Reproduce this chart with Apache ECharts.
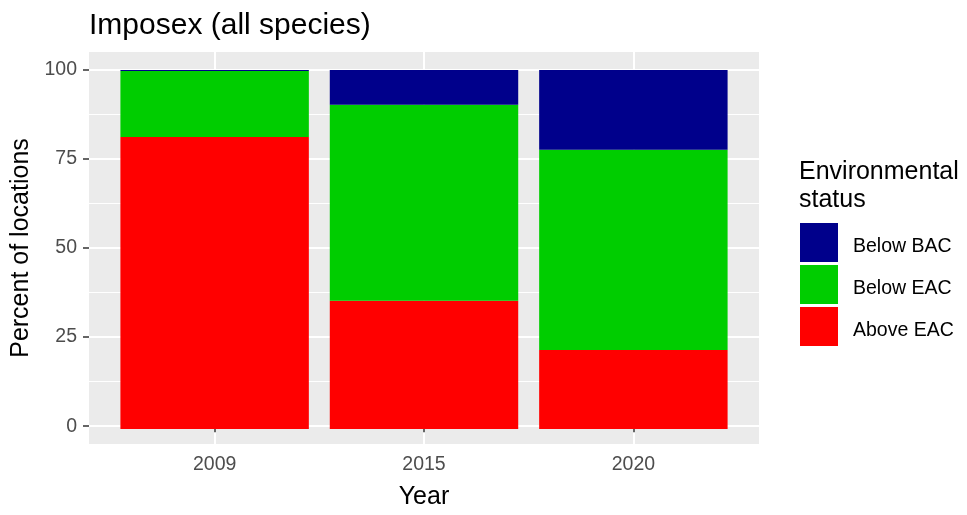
<!DOCTYPE html>
<html>
<head>
<meta charset="utf-8">
<script src="https://cdn.jsdelivr.net/npm/echarts@6/dist/echarts.min.js"></script>
<style>html,body{margin:0;padding:0;background:#fff}#c{width:967px;height:515px}</style>
</head>
<body>
<div id="c"></div>
<script>
const years = ['2009', '2015', '2020'];
const aboveEAC = [81.3, 35.7, 22.0];
const belowEAC = [18.4, 54.6, 55.8];
const belowBAC = [0.3, 9.7, 22.2];
const yTicks = [0, 25, 50, 75, 100];
const yMinor = [12.5, 37.5, 62.5, 87.5];
const legendOrder = ['Below BAC', 'Below EAC', 'Above EAC'];

const font = 'Liberation Sans, Arial, sans-serif';
const W = 967;
const panel = {left: 89, right: 208, top: 52, bottom: 68};
const panelWidth = W - panel.left - panel.right;
// ggplot discrete expansion 0.6 vs echarts band margin 0.5
const inset = panelWidth * 0.1 / (years.length + 0.2);
const pos = years.map((y, i) => i + 1);

const chart = echarts.init(document.getElementById('c'), null, {renderer: 'canvas'});
chart.setOption({
  animation: false,
  backgroundColor: '#ffffff',
  title: [
    {text: 'Imposex (all species)', left: 89, top: 11, padding: 0,
     textStyle: {fontFamily: font, fontSize: 30, fontWeight: 'normal', color: '#000'}},
    {text: 'Environmental\nstatus', left: 799, top: 158, padding: 0,
     textStyle: {fontFamily: font, fontSize: 25, fontWeight: 'normal', color: '#000', lineHeight: 28}}
  ],
  legend: {
    data: legendOrder,
    orient: 'vertical', left: 800, top: 223, padding: 0,
    itemWidth: 38, itemHeight: 39, itemGap: 3,
    icon: 'rect',
    formatter: name => '{t|' + name + '}',
    textStyle: {
      fontFamily: font, fontSize: 19.5, color: '#000',
      rich: {t: {fontFamily: font, fontSize: 19.5, color: '#000', padding: [8, 0, 0, 10]}}
    }
  },
  grid: [
    {left: panel.left + inset, right: panel.right + inset, top: panel.top, bottom: panel.bottom, show: false},
    {left: panel.left, right: panel.right, top: panel.top, bottom: panel.bottom, show: true, backgroundColor: '#EBEBEB', borderWidth: 0}
  ],
  xAxis: [
    {type: 'category', gridIndex: 0, data: years, show: false, boundaryGap: true},
    {
      type: 'value', gridIndex: 1, min: 0.4, max: years.length + 0.6,
      axisLine: {show: false},
      axisTick: {show: true, length: 6, lineStyle: {color: '#333333', width: 1.5}, customValues: pos},
      axisLabel: {customValues: pos, formatter: v => years[Math.round(v) - 1], fontFamily: font, fontSize: 19.5, color: '#4D4D4D', margin: 11},
      splitLine: {show: true, lineStyle: {color: '#ffffff', width: 2}},
      name: 'Year', nameLocation: 'middle', nameGap: 41,
      nameTextStyle: {fontFamily: font, fontSize: 25, color: '#000'}
    }
  ],
  yAxis: [
    {type: 'value', gridIndex: 0, min: -5, max: 105, show: false, splitLine: {show: false}},
    {
      type: 'value', gridIndex: 1, min: -5, max: 105,
      axisLine: {show: false},
      axisTick: {show: true, length: 6, lineStyle: {color: '#333333', width: 1.5}, customValues: yTicks},
      axisLabel: {customValues: yTicks, fontFamily: font, fontSize: 19.5, color: '#4D4D4D', margin: 12},
      splitLine: {show: true, lineStyle: {color: '#ffffff', width: 2}},
      name: 'Percent of locations', nameLocation: 'middle', nameGap: 52,
      nameTextStyle: {fontFamily: font, fontSize: 25, color: '#000'}
    },
    {
      type: 'value', gridIndex: 1, min: -5, max: 105,
      axisLine: {show: false},
      axisTick: {show: false, customValues: yMinor},
      axisLabel: {show: false, customValues: yMinor},
      splitLine: {show: true, lineStyle: {color: '#ffffff', width: 1}}
    }
  ],
  series: [
    {name: 'Above EAC', type: 'bar', xAxisIndex: 0, yAxisIndex: 0, stack: 's', data: aboveEAC, barWidth: '90%', itemStyle: {color: '#FF0000'}},
    {name: 'Below EAC', type: 'bar', xAxisIndex: 0, yAxisIndex: 0, stack: 's', data: belowEAC, barWidth: '90%', itemStyle: {color: '#00CD00'}},
    {name: 'Below BAC', type: 'bar', xAxisIndex: 0, yAxisIndex: 0, stack: 's', data: belowBAC, barWidth: '90%', itemStyle: {color: '#00008B'}}
  ]
});
</script>
</body>
</html>
